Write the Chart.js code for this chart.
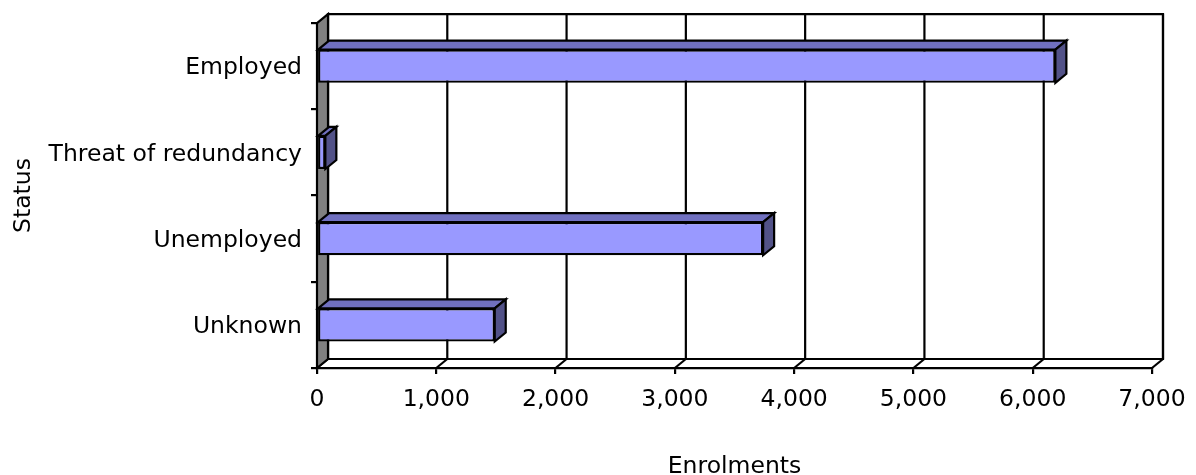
<!DOCTYPE html>
<html>
<head>
<meta charset="utf-8">
<title>Enrolments by status</title>
<script src="https://cdn.jsdelivr.net/npm/chart.js@4"></script>
<style>
    html, body { margin: 0; padding: 0; background: #fff; }
    #wrap { width: 1196px; height: 475px; position: relative; }
</style>
</head>
<body>
<div id="wrap"><canvas id="status-chart"></canvas></div>
<script>
// Enrolments per employment status
const categories = ['Employed', 'Threat of redundancy', 'Unemployed', 'Unknown'];
const enrolments = [6190, 70, 3740, 1490];
const xTicks = [0, 1000, 2000, 3000, 4000, 5000, 6000, 7000];

const FONT = { family: '"DejaVu Sans", Verdana, sans-serif', size: 23.5 };
const DEPTH_X = 11;
const DEPTH_Y = 9;

// Walls, floor and bar depth faces for the pseudo-3D look
const depthPlugin = {
    id: 'depth3d',
    beforeDatasetsDraw(chart) {
        const { ctx, chartArea: a, scales } = chart;
        const x = scales.x;
        ctx.save();
        ctx.lineWidth = 2.2;
        ctx.strokeStyle = '#000';
        ctx.lineJoin = 'miter';

        // back wall
        ctx.fillStyle = '#fff';
        ctx.beginPath();
        ctx.rect(a.left + DEPTH_X, a.top - DEPTH_Y, a.right - a.left, a.bottom - a.top);
        ctx.fill();
        ctx.stroke();

        // gridlines on the back wall + floor diagonals
        xTicks.forEach(v => {
            const px = x.getPixelForValue(v);
            ctx.beginPath();
            ctx.moveTo(px + DEPTH_X, a.top - DEPTH_Y);
            ctx.lineTo(px + DEPTH_X, a.bottom - DEPTH_Y);
            ctx.stroke();
            ctx.beginPath();
            ctx.moveTo(px, a.bottom);
            ctx.lineTo(px + DEPTH_X, a.bottom - DEPTH_Y);
            ctx.stroke();
        });

        // front floor edge
        ctx.beginPath();
        ctx.moveTo(a.left, a.bottom);
        ctx.lineTo(a.right, a.bottom);
        ctx.stroke();

        // left side wall
        ctx.fillStyle = '#808080';
        ctx.beginPath();
        ctx.moveTo(a.left, a.top);
        ctx.lineTo(a.left + DEPTH_X, a.top - DEPTH_Y);
        ctx.lineTo(a.left + DEPTH_X, a.bottom - DEPTH_Y);
        ctx.lineTo(a.left, a.bottom);
        ctx.closePath();
        ctx.fill();
        ctx.stroke();

        // top and side faces of each bar
        const meta = chart.getDatasetMeta(0);
        meta.data.forEach(bar => {
            const p = bar.getProps(['x', 'y', 'base', 'height'], true);
            const x0 = p.base, x1 = p.x;
            const yTop = p.y - p.height / 2, yBot = p.y + p.height / 2;

            ctx.fillStyle = '#7070c0';
            ctx.beginPath();
            ctx.moveTo(x0, yTop);
            ctx.lineTo(x0 + DEPTH_X, yTop - DEPTH_Y);
            ctx.lineTo(x1 + DEPTH_X, yTop - DEPTH_Y);
            ctx.lineTo(x1, yTop);
            ctx.closePath();
            ctx.fill();
            ctx.stroke();

            ctx.fillStyle = '#525288';
            ctx.beginPath();
            ctx.moveTo(x1, yTop);
            ctx.lineTo(x1 + DEPTH_X, yTop - DEPTH_Y);
            ctx.lineTo(x1 + DEPTH_X, yBot - DEPTH_Y);
            ctx.lineTo(x1, yBot);
            ctx.closePath();
            ctx.fill();
            ctx.stroke();
        });
        ctx.restore();
    }
};

new Chart(document.getElementById('status-chart'), {
    type: 'bar',
    data: {
        labels: categories,
        datasets: [{
            label: 'Enrolments',
            data: enrolments,
            backgroundColor: '#9999ff',
            borderColor: '#000',
            borderWidth: 2.2,
            borderSkipped: false,
            categoryPercentage: 1,
            barPercentage: 0.385
        }]
    },
    options: {
        indexAxis: 'y',
        responsive: true,
        maintainAspectRatio: false,
        devicePixelRatio: 1,
        animation: false,
        layout: { padding: { top: 23, right: 44, bottom: 0, left: 0 } },
        plugins: {
            legend: { display: false },
            tooltip: { enabled: false }
        },
        scales: {
            x: {
                min: 0,
                max: 7000,
                afterBuildTicks: scale => { scale.ticks = xTicks.map(v => ({ value: v })); },
                afterFit: scale => {
                    scale.height = 107;
                    // keep the plot edge fixed; the last label may hang into the margin
                    scale.paddingRight = 0;
                },
                grid: { drawOnChartArea: false, drawTicks: true, tickLength: 6, color: '#000', lineWidth: 2.2 },
                border: { display: true, color: '#000', width: 2.2 },
                ticks: {
                    color: '#000',
                    font: FONT,
                    padding: 12,
                    maxRotation: 0,
                    callback: v => v.toLocaleString('en-US')
                },
                title: {
                    display: true, text: 'Enrolments', color: '#000',
                    font: { ...FONT, lineHeight: 0.65 }, padding: { top: 0, bottom: 0 }
                }
            },
            y: {
                afterFit: scale => { scale.width = 317; },
                grid: { drawOnChartArea: false, drawTicks: true, tickLength: 6, color: '#000', lineWidth: 2.2, offset: true },
                border: { display: true, color: '#000', width: 2.2 },
                ticks: { color: '#000', font: FONT, padding: 9, labelOffset: 2 },
                title: { display: true, text: 'Status', color: '#000', font: FONT, padding: { top: 10, bottom: 0 } }
            }
        }
    },
    plugins: [depthPlugin]
});
</script>
</body>
</html>
